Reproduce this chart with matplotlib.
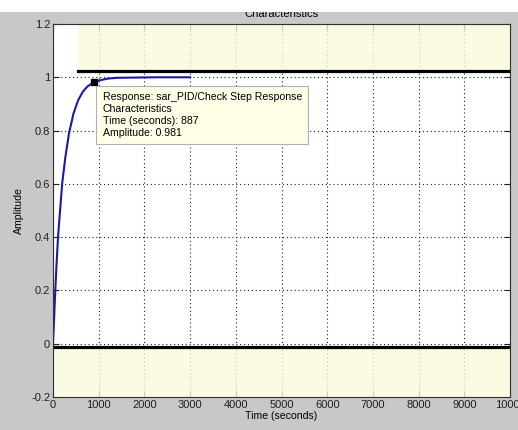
import matplotlib
matplotlib.use("Agg")
import matplotlib.pyplot as plt
from matplotlib.patches import Rectangle

# step response
time_s = [0, 25, 50, 75, 110, 150, 200, 270, 350, 450, 550, 650, 750, 887, 1000, 1200, 1400, 1800, 2300, 3000]
amplitude = [0, 0.10, 0.20, 0.29, 0.40, 0.49, 0.60, 0.70, 0.79, 0.865, 0.914, 0.945, 0.965, 0.981, 0.988, 0.995, 0.998, 0.999, 1.0, 1.0]

tip_time = 887
tip_amp = 0.981

# settling bands
upper_band = 1.025
upper_band_start = 550
lower_band = -0.012

x_ticks = [0, 1000, 2000, 3000, 4000, 5000, 6000, 7000, 8000, 9000, 10000]
y_ticks = [-0.2, 0, 0.2, 0.4, 0.6, 0.8, 1, 1.2]
y_tick_labels = ['-0.2', '0', '0.2', '0.4', '0.6', '0.8', '1', '1.2']

plt.rcParams['font.family'] = ['Liberation Sans', 'DejaVu Sans']

fig = plt.figure(figsize=(5.18, 4.30), dpi=100, facecolor='#c8c8c8')
ax = fig.add_axes([53/518, 1-397/430, 457/518, 373/430])
ax.set_facecolor('white')
ax.set_xlim(0, 10000)
ax.set_ylim(-0.2, 1.2)

ax.set_axisbelow(True)
ax.grid(True, color='#202020', linestyle=(0, (1, 2.5)), linewidth=0.8)

yellow = '#faf9dc'
ax.add_patch(Rectangle((upper_band_start, upper_band), 10000 - upper_band_start, 1.2 - upper_band,
                       facecolor=yellow, edgecolor='none', alpha=0.8, zorder=1))
ax.add_patch(Rectangle((0, -0.2), 10000, lower_band + 0.2,
                       facecolor=yellow, edgecolor='none', alpha=0.8, zorder=1))
ax.plot([upper_band_start, 10000], [upper_band, upper_band], color='black', lw=2.3, zorder=3)
ax.plot([0, 10000], [lower_band, lower_band], color='black', lw=2.3, zorder=3)

ax.plot(time_s, amplitude, color='#1a1aa8', lw=1.5, zorder=4)
ax.plot([tip_time], [tip_amp], marker='s', color='black', markersize=4.5, zorder=5)

ax.text(1090, 0.945,
        'Response: sar_PID/Check Step Response\nCharacteristics\nTime (seconds): 887\nAmplitude: 0.981',
        fontsize=7.6, va='top', ha='left', zorder=6, linespacing=1.25,
        bbox=dict(boxstyle='square,pad=0.6', facecolor='#ffffe8', edgecolor='#b0b0b0', lw=0.8))

ax.set_xticks(x_ticks)
ax.set_yticks(y_ticks)
ax.set_yticklabels(y_tick_labels)
ax.tick_params(direction='in', length=4, width=0.8, labelsize=8, pad=2,
               top=True, right=True, colors='#202020')
for s in ax.spines.values():
    s.set_color('#303030')
    s.set_linewidth(0.8)
    s.set_zorder(7)

ax.set_xlabel('Time (seconds)', fontsize=7.6, labelpad=1)
ax.set_ylabel('Amplitude', fontsize=7.6, labelpad=5)
ax.set_title('Characteristics', fontsize=8, pad=5)

# white strip over the top of the screenshot
fig.patches.append(Rectangle((0, 1 - 12/430), 1, 12/430, transform=fig.transFigure,
                             facecolor='white', edgecolor='none', zorder=20))

fig.savefig('out.png', dpi=100, facecolor=fig.get_facecolor())
